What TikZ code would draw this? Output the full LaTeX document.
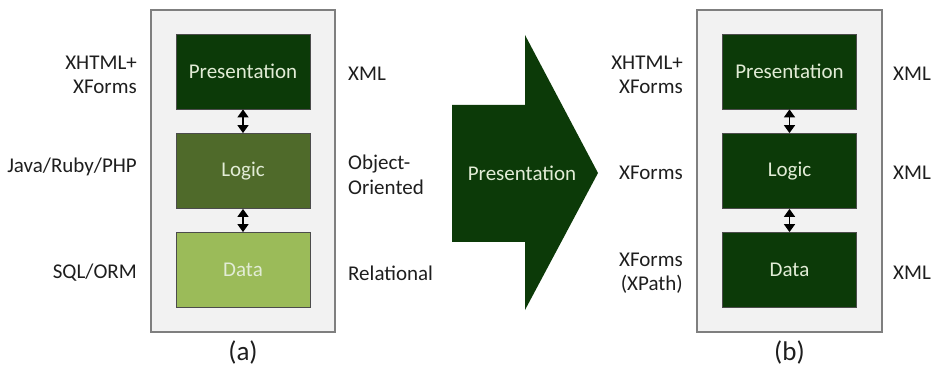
\documentclass[tikz,border=0pt]{standalone}
\usepackage{fontspec}
\setmainfont{Carlito}
\usetikzlibrary{arrows.meta}
\usetikzlibrary{positioning}

\definecolor{dunkelgruen}{HTML}{0C3A08}
\definecolor{olivgruen}{HTML}{4F6A2A}
\definecolor{hellgruen}{HTML}{9BBB59}
\definecolor{rahmengrau}{HTML}{7F7F7F}
\definecolor{hintergrund}{HTML}{F2F2F2}
\definecolor{schrift}{HTML}{E2ECD6}
\definecolor{beschriftung}{HTML}{1E1E1E}

\begin{document}
\begin{tikzpicture}[%
x={(1pt,0pt)},
y={(0pt,-1pt)},
font=\fontsize{21}{24.5}\selectfont,
text=beschriftung,
schicht/.style={rectangle,draw=black!70,line width=0.8pt,minimum width=134pt,minimum height=75pt,text=schrift,inner sep=0pt},
rahmen/.style={draw=rahmengrau,fill=hintergrund,line width=1.2pt},
pfeil/.style={{Triangle[width=11pt,length=8pt]}-{Triangle[width=11pt,length=8pt]},line width=1.6pt,black},
links/.style={anchor=east,align=right,inner sep=0pt},
rechts/.style={anchor=west,align=left,inner sep=0pt},
titel/.style={font=\fontsize{27}{32}\selectfont},
]

\useasboundingbox (0,0) rectangle (938,377);

%Rahmen
\draw[rahmen] (151,10) rectangle (335,332);
\draw[rahmen] (697,10) rectangle (882,332);

%Schichten (a)
\node[schicht,fill=dunkelgruen](Pa) at (243,71.5){Presentation};
\node[schicht,fill=olivgruen](La) at (243,171){Logic};
\node[schicht,fill=hellgruen](Da) at (243,270){Data};

%Schichten (b)
\node[schicht,fill=dunkelgruen](Pb) at (789.5,71.5){Presentation};
\node[schicht,fill=dunkelgruen](Lb) at (789.5,171){Logic};
\node[schicht,fill=dunkelgruen](Db) at (789.5,270){Data};

%Pfeile
\draw[pfeil] (Pa) -- (La);
\draw[pfeil] (La) -- (Da);
\draw[pfeil] (Pb) -- (Lb);
\draw[pfeil] (Lb) -- (Db);

%Beschriftung (a)
\node[links](Pal) at (137,75){XHTML+\\XForms};
\node[links](Lal) at (137,167){Java/Ruby/PHP};
\node[links](Dal) at (137,273){SQL/ORM};
\node[rechts](Par) at (348,74){XML};
\node[rechts](Lar) at (348,175){Object-\\Oriented};
\node[rechts](Dar) at (348,273){Relational};

%Beschriftung (b)
\node[links](Pbl) at (683,75){XHTML+\\XForms};
\node[links](Lbl) at (683,173){XForms};
\node[links](Dbl) at (683,273){XForms\\(XPath)};
\node[rechts](Pbr) at (893,74){XML};
\node[rechts](Lbr) at (893,173){XML};
\node[rechts](Dbr) at (893,273){XML};

%grosser Pfeil
\fill[dunkelgruen] (452,105) -- (525,105) -- (525,35) -- (598,173)
-- (525,310) -- (525,242) -- (452,242) -- cycle;
\node[text=schrift](Uebergang) at (522,173){Presentation};

%Titel
\node[titel](Ta) at (243,352){(a)};
\node[titel](Tb) at (789.5,352){(b)};

\end{tikzpicture}
\end{document}
